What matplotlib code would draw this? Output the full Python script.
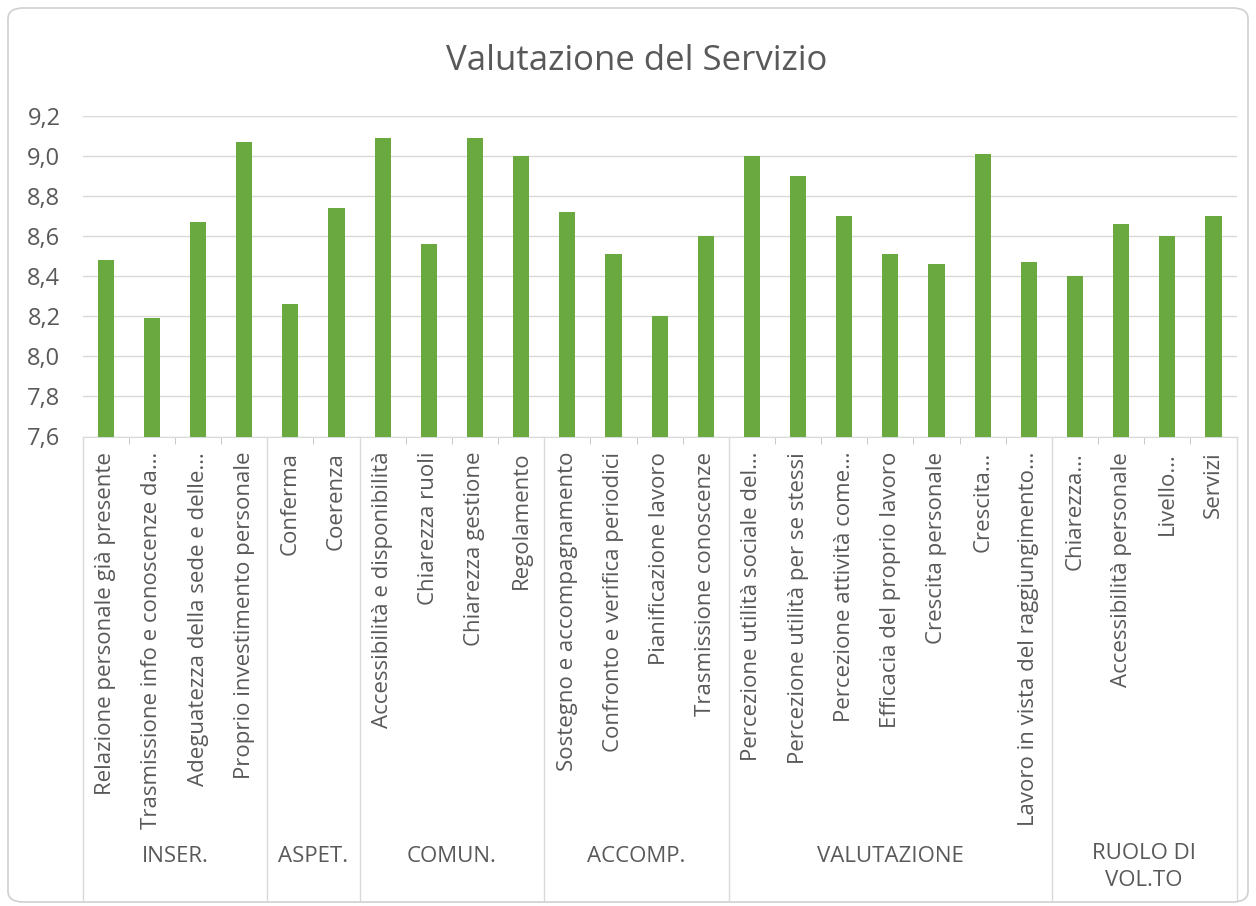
import numpy as np
import matplotlib
matplotlib.use("Agg")
import matplotlib.pyplot as plt
from matplotlib.patches import FancyBboxPatch
from matplotlib.ticker import FuncFormatter

labels = [
    "Relazione personale già presente", "Trasmissione info e conoscenze da…",
    "Adeguatezza della sede e delle…", "Proprio investimento personale",
    "Conferma", "Coerenza",
    "Accessibilità e disponibilità", "Chiarezza ruoli", "Chiarezza gestione", "Regolamento",
    "Sostegno e accompagnamento", "Confronto e verifica periodici",
    "Pianificazione lavoro", "Trasmissione conoscenze",
    "Percezione utilità sociale del…", "Percezione utilità per se stessi",
    "Percezione attività come…", "Efficacia del proprio lavoro", "Crescita personale",
    "Crescita…", "Lavoro in vista del raggiungimento…",
    "Chiarezza…", "Accessibilità personale", "Livello…", "Servizi",
]
values = [8.48, 8.19, 8.67, 9.07, 8.26, 8.74, 9.09, 8.56, 9.09, 9.00,
          8.72, 8.51, 8.20, 8.60, 9.00, 8.90, 8.70, 8.51, 8.46, 9.01,
          8.47, 8.40, 8.66, 8.60, 8.70]
groups = ["INSER.", "ASPET.", "COMUN.", "ACCOMP.", "VALUTAZIONE", "RUOLO DI\nVOL.TO"]
group_sizes = [4, 2, 4, 4, 7, 4]

green = "#6aa93f"
txt = "#595959"
gridc = "#d9d9d9"

plt.rcParams['font.family'] = ['Open Sans', 'DejaVu Sans']

W, H = 1256, 906
fig = plt.figure(figsize=(W / 100, H / 100), dpi=100)
fig.patches.append(FancyBboxPatch((8/W, 4/H), 1240/W, 894/H,
                                  boxstyle="round,pad=0,rounding_size=0.012",
                                  transform=fig.transFigure, fc="none", ec="#d0d0d0", lw=1.2))
x0, x1, y_top, y_bot = 82.7, 1236.5, 115.7, 436.5
ax = fig.add_axes([x0 / W, 1 - y_bot / H, (x1 - x0) / W, (y_bot - y_top) / H])
ax.set_facecolor("none")

x = np.arange(len(values))
ax.bar(x, values, width=0.35, color=green, zorder=3)
ax.set_ylim(7.6, 9.2)
ax.set_xlim(-0.5, len(values) - 0.5)
ax.set_yticks(np.arange(7.6, 9.21, 0.2))
ax.yaxis.set_major_formatter(FuncFormatter(lambda v, p: f"{v:.1f}".replace(".", ",")))
ax.grid(axis="y", color=gridc, lw=1, zorder=0)
for s in ["top", "right", "left"]:
    ax.spines[s].set_visible(False)
ax.spines["bottom"].set_color(gridc)
ax.tick_params(axis="y", length=0, pad=16, labelsize=17, labelcolor=txt)
ax.set_xticks(x)
ax.set_xticklabels(labels, rotation=90, fontsize=16, color=txt, va="top")
ax.tick_params(axis="x", length=0, pad=11)
ax.set_xticks(np.arange(-0.5, len(values), 1), minor=True)
ax.tick_params(axis="x", which="minor", length=5, color="#bfbfbf")

fig.text(637 / W, 1 - 70 / H, "Valutazione del Servizio", fontsize=25, color=txt,
         ha="center", va="baseline")

# group dividers and labels under the axis
ax_h = y_bot - y_top
bottom = -(900 - y_bot) / ax_h
bounds = np.concatenate([[0], np.cumsum(group_sizes)]) - 0.5
for b in bounds:
    ax.plot([b, b], [0, bottom], transform=ax.get_xaxis_transform(),
            color=gridc, lw=1, clip_on=False)
for g, lo, hi in zip(groups, bounds[:-1], bounds[1:]):
    yc = -(867 - y_bot) / ax_h if "\n" in g else -(856 - y_bot) / ax_h
    ax.text((lo + hi) / 2, yc, g, transform=ax.get_xaxis_transform(),
            ha="center", va="center", fontsize=16, color=txt, linespacing=1.4)

fig.savefig("out.png", dpi=100)
